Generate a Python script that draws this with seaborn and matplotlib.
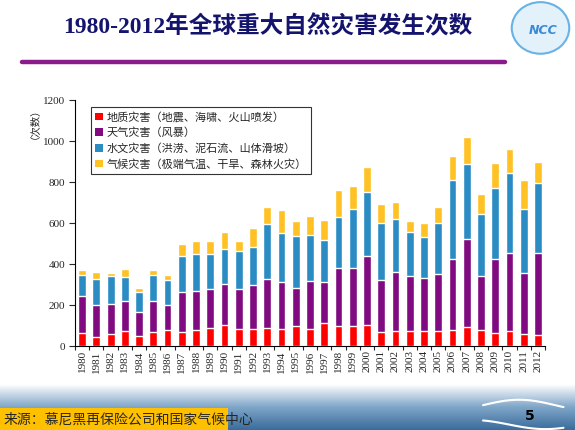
import numpy as np
import pandas as pd
import matplotlib
matplotlib.use("Agg")
import matplotlib.pyplot as plt
from matplotlib.patches import Patch, Rectangle, Ellipse
import seaborn as sns

# data (counts per year)
years = [str(y) for y in range(1980, 2013)]
geo = [65, 44, 57, 76, 49, 67, 78, 68, 78, 88, 102, 83, 83, 88, 83, 98, 85,
       111, 96, 96, 104, 67, 76, 72, 76, 76, 81, 91, 81, 62, 76, 57, 52]
met = [179, 159, 151, 142, 117, 151, 125, 194, 189, 193, 199, 198, 213, 242, 228, 188, 232,
       203, 283, 283, 338, 257, 287, 268, 257, 277, 345, 433, 262, 364, 379, 301, 403]
hyd = [101, 127, 133, 117, 96, 127, 119, 180, 185, 171, 175, 181, 190, 264, 243, 249, 224,
       205, 252, 291, 311, 278, 258, 218, 200, 249, 385, 365, 303, 346, 391, 312, 339]
cli = [26, 34, 18, 41, 21, 26, 23, 54, 59, 63, 83, 53, 88, 87, 108, 78, 93,
       97, 132, 112, 122, 92, 83, 53, 69, 78, 119, 132, 97, 122, 117, 141, 105]

labels = ["地质灾害（地震、海啸、火山喷发）",
          "天气灾害（风暴）",
          "水文灾害（洪涝、泥石流、山体滑坡）",
          "气候灾害（极端气温、干旱、森林火灾）"]
colors = ["#FF0000", "#800A80", "#2B8CC4", "#FFC124"]

df = pd.DataFrame({"year": years, "geo": geo, "met": met, "hyd": hyd, "cli": cli})
df["c1"] = df["geo"]
df["c2"] = df["c1"] + df["met"]
df["c3"] = df["c2"] + df["hyd"]
df["c4"] = df["c3"] + df["cli"]

sns.set_style("ticks")
plt.rcParams["font.family"] = ["Liberation Serif", "Noto Sans CJK SC"]

fig = plt.figure(figsize=(5.75, 4.3), dpi=100)

# bottom gradient band
bg = fig.add_axes([0, 0, 1, 0.105], zorder=0)
grad = np.linspace(0, 1, 100)[:, None]
cmap = matplotlib.colors.LinearSegmentedColormap.from_list("sea", ["#3a6c9c", "#7fa6c8", "#ffffff"])
bg.imshow(grad, aspect="auto", cmap=cmap, origin="lower", extent=[0, 1, 0, 1])
t = np.linspace(0.84, 0.98, 50)
bg.plot(t, 0.55 + 0.12 * np.sin((t - 0.84) * 25), color="white", lw=1.5)
bg.plot(t, 0.12 + 0.10 * np.sin((t - 0.84) * 25 + 2), color="white", lw=1.5)
bg.set_xlim(0, 1)
bg.set_ylim(0, 1)
bg.axis("off")

ax = fig.add_axes([0.1304, 0.195, 0.8176, 0.572], zorder=2)
ax.patch.set_alpha(0)

# stacked bars: draw cumulative totals back to front
for col, c in zip(["c4", "c3", "c2", "c1"], colors[::-1]):
    sns.barplot(data=df, x="year", y=col, color=c, width=0.55, saturation=1,
                errorbar=None, ax=ax)

ax.set_ylim(0, 1200)
ax.set_yticks(range(0, 1201, 200))
ax.set_xlabel("")
ax.set_ylabel("")
ax.tick_params(axis="y", labelsize=8, length=4, width=0.8, direction="out", pad=3)
ax.tick_params(axis="x", which="major", labelsize=8, length=0, labelrotation=90, pad=3)
ax.set_xticks(np.arange(-0.5, 33, 1), minor=True)
ax.tick_params(axis="x", which="minor", length=3, width=0.8, direction="out")
ax.set_xlim(-0.5, 32.5)
sns.despine(ax=ax)
for s in ["left", "bottom"]:
    ax.spines[s].set_color("black")
    ax.spines[s].set_linewidth(0.8)

handles = [Patch(facecolor=c, edgecolor="none") for c in colors]
leg = ax.legend(handles, labels, loc="upper left", bbox_to_anchor=(0.022, 0.995),
                frameon=True, fancybox=False, edgecolor="black",
                handlelength=0.7, handleheight=0.7, handletextpad=0.3,
                labelspacing=0.45, borderpad=0.4, prop={"family": "Noto Sans CJK SC", "size": 8})
leg.get_frame().set_linewidth(0.8)

fig.text(0.052, 0.725, "（次数）", rotation=90, ha="center", va="center", fontsize=7.5,
         family="Noto Sans CJK SC")

# title and purple rule
fig.text(0.465, 0.937, "1980-2012年全球重大自然灾害发生次数", ha="center", va="center",
         fontsize=17, fontweight="bold", color="#14146e")
fig.add_artist(plt.Line2D([0.038, 0.878], [0.856, 0.856], color="#8B1A8B", lw=3.2))

# emblem placeholder
fig.add_artist(Ellipse((0.94, 0.935), 0.1, 0.12, facecolor="#e3f1fa", edgecolor="#6ab2e4", lw=1.5))
fig.text(0.945, 0.93, "NCC", ha="center", va="center", fontsize=9, fontweight="bold",
         color="#3a8ad6", style="italic", family="DejaVu Sans")

# source box and page number
fig.add_artist(Rectangle((0, 0), 0.397, 0.051, facecolor="#FFC000", edgecolor="none",
                         transform=fig.transFigure, zorder=3))
fig.text(0.006, 0.025, "来源：慕尼黑再保险公司和国家气候中心", ha="left", va="center",
         fontsize=10, family="Noto Sans CJK SC", zorder=4)
fig.text(0.922, 0.032, "5", ha="center", va="center", fontsize=10, fontweight="bold",
         color="black", family="DejaVu Sans")

fig.savefig("out.png", dpi=100)
